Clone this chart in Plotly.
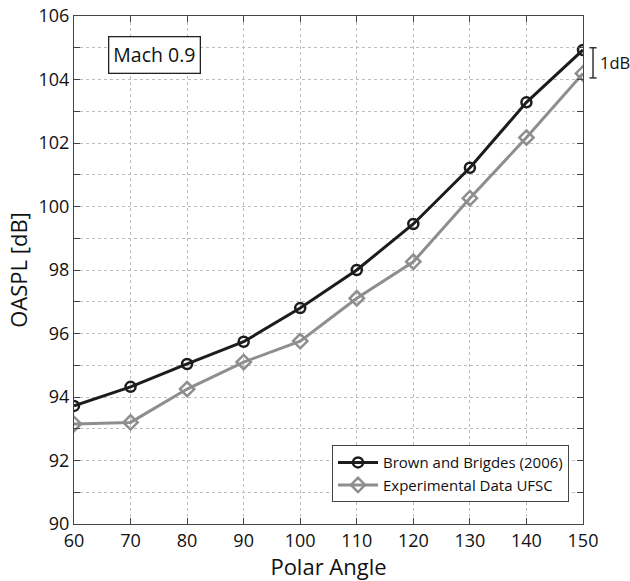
import plotly.graph_objects as go

# Polar angle (deg) and overall sound pressure level (dB)
polar_angle = [60, 70, 80, 90, 100, 110, 120, 130, 140, 150]
oaspl_brown_bridges = [93.72, 94.32, 95.04, 95.74, 96.80, 98.00, 99.45, 101.22, 103.28, 104.93]
oaspl_experimental = [93.15, 93.20, 94.25, 95.10, 95.76, 97.11, 98.26, 100.26, 102.17, 104.19]

series_names = ["Brown and Brigdes (2006)", "Experimental Data UFSC"]

x_ticks = [60, 70, 80, 90, 100, 110, 120, 130, 140, 150]
y_ticks = list(range(90, 107))
y_tick_text = [str(v) if v % 2 == 0 else "" for v in y_ticks]

FONT = "Open Sans, Noto Sans, sans-serif"
BLACK = "#1c1c1c"
GRAY = "#8e8e8e"

fig = go.Figure()
fig.add_trace(go.Scatter(
    x=polar_angle, y=oaspl_brown_bridges, name=series_names[0],
    mode="lines+markers",
    line=dict(color=BLACK, width=3),
    marker=dict(symbol="circle-open", size=10, color=BLACK, line=dict(width=2.5)),
))
fig.add_trace(go.Scatter(
    x=polar_angle, y=oaspl_experimental, name=series_names[1],
    mode="lines+markers",
    line=dict(color=GRAY, width=3),
    marker=dict(symbol="diamond-open", size=11, color=GRAY, line=dict(width=2.5)),
))

axis_common = dict(
    showline=True, linecolor="#444", linewidth=1.2, mirror="ticks",
    ticks="inside", ticklen=6, tickcolor="#444", tickwidth=1,
    showgrid=True, gridcolor="#bdbdbd", griddash="dot", gridwidth=1,
    zeroline=False, automargin=False,
    tickfont=dict(family=FONT, size=18, color="#111"),
)

fig.update_xaxes(
    range=[60, 150], tickvals=x_ticks,
    title=dict(text="Polar Angle", font=dict(family=FONT, size=22, color="#111"), standoff=6),
    **axis_common,
)
fig.update_yaxes(
    range=[90, 106], tickvals=y_ticks, ticktext=y_tick_text,
    title=dict(text="OASPL [dB]", font=dict(family=FONT, size=22, color="#111"), standoff=4),
    **axis_common,
)

# 1 dB scale bracket beside the right axis
bracket_x = 1.0197
cap = 0.007
for y0, y1, x0, x1 in [(104.05, 105.0, bracket_x, bracket_x),
                       (105.0, 105.0, bracket_x - cap, bracket_x + cap),
                       (104.05, 104.05, bracket_x - cap, bracket_x + cap)]:
    fig.add_shape(type="line", xref="paper", yref="y", x0=x0, x1=x1, y0=y0, y1=y1,
                  line=dict(color="#333", width=1.5))
fig.add_annotation(xref="paper", yref="y", x=1.0305, y=104.52, text="1dB",
                   showarrow=False, xanchor="left", yanchor="middle", borderpad=0,
                   font=dict(family=FONT, size=16.5, color="#111"))

fig.add_annotation(xref="paper", yref="paper", x=0.158, y=0.923, text="Mach 0.9",
                   showarrow=False, xanchor="center", yanchor="middle",
                   bordercolor="#222", borderwidth=1.3, borderpad=4, bgcolor="white",
                   font=dict(family=FONT, size=19.5, color="#111"))

fig.update_layout(
    width=630, height=581,
    margin=dict(l=74, r=47, t=16, b=57, autoexpand=False),
    paper_bgcolor="white", plot_bgcolor="white",
    showlegend=True,
    legend=dict(x=0.9725, y=0.043, xanchor="right", yanchor="bottom",
                bordercolor="#444", borderwidth=1, bgcolor="white",
                font=dict(family=FONT, size=15, color="#111"),
                itemwidth=40, tracegroupgap=0),
)

fig.write_html("out.html")
